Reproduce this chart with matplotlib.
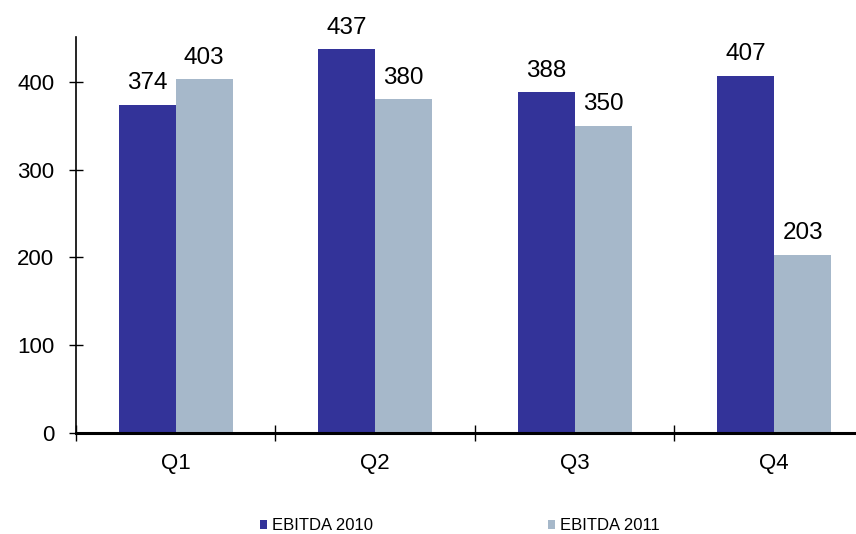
import matplotlib
matplotlib.use("Agg")
import matplotlib.pyplot as plt
import numpy as np

plt.rcParams["font.family"] = ["Liberation Sans", "DejaVu Sans"]

quarters = ["Q1", "Q2", "Q3", "Q4"]
ebitda_2010 = [374, 437, 388, 407]
ebitda_2011 = [403, 380, 350, 203]
yticks = [0, 100, 200, 300, 400]

fig = plt.figure(figsize=(8.56, 5.34), dpi=100)
ax = fig.add_axes([0.0888, 0.189, 0.910, 0.7416])

x = np.arange(len(quarters))
w = 0.286
b1 = ax.bar(x - w / 2, ebitda_2010, w, color="#333399", label="EBITDA 2010")
b2 = ax.bar(x + w / 2, ebitda_2011, w, color="#A6B8CA", label="EBITDA 2011")

# value labels above bars
for bars in (b1, b2):
    for r in bars:
        ax.annotate(f"{r.get_height():.0f}", (r.get_x() + r.get_width() / 2, r.get_height()),
                    xytext=(0, 7.5), textcoords="offset points", ha="center", va="bottom",
                    fontsize=17.5)

ax.set_xlim(-0.5, 3.405)
ax.set_ylim(0, 451)
ax.set_yticks(yticks)
ax.set_xticks(x)
ax.set_xticklabels(quarters)
ax.set_xticks(np.arange(-0.5, 3.5, 1.0), minor=True)
ax.tick_params(axis="x", which="major", length=0, labelsize=16, pad=14)
ax.tick_params(axis="x", which="minor", direction="inout", length=11, width=1)
ax.tick_params(axis="y", direction="inout", length=9.5, width=1, labelsize=16, pad=11)

for s in ["top", "right"]:
    ax.spines[s].set_visible(False)
ax.spines["left"].set_linewidth(1.2)
ax.spines["bottom"].set_linewidth(2.2)

fig.legend(loc="center", bbox_to_anchor=(0.537, 0.0155), ncol=2, frameon=False, fontsize=12,
           handlelength=0.42, handleheight=0.42, handletextpad=0.3, columnspacing=10.5,
           borderpad=0, borderaxespad=0)

fig.savefig("out.png", dpi=100)
